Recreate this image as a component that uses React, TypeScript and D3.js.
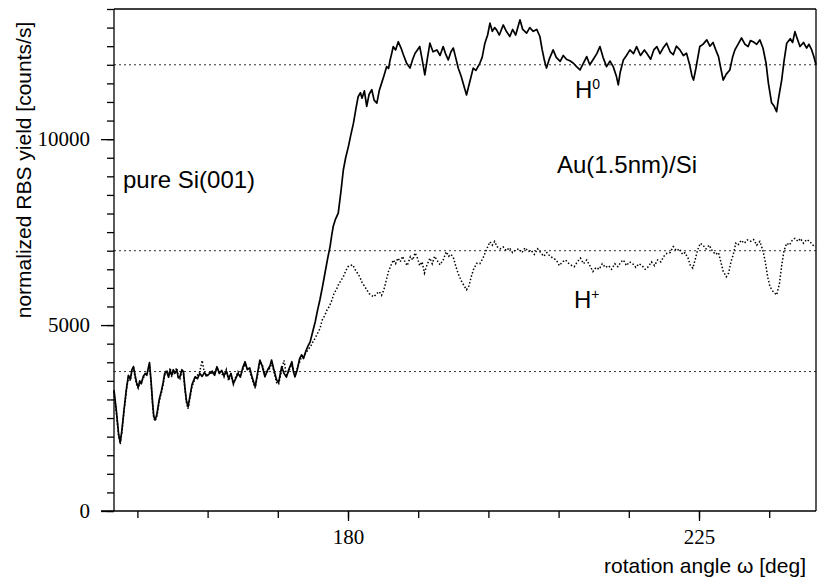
import React, { useEffect, useRef } from "react";
import * as d3 from "d3";

// H0 yield (solid trace), [angle deg, counts/s]
const h0Scan: [number, number][] = [
  [150.0, 3250], [150.3, 2700], [150.6, 2050], [150.8, 1850], [151.0, 2150], [151.3, 2750],
  [151.6, 3300], [151.85, 3650], [152.1, 3550], [152.3, 3800], [152.5, 3880], [152.7, 3650],
  [152.9, 3450], [153.1, 3330], [153.3, 3500], [153.5, 3420], [153.75, 3620], [154.0, 3700],
  [154.2, 3650], [154.4, 3850], [154.55, 3990], [154.75, 3500], [154.95, 2900], [155.1, 2550],
  [155.27, 2450], [155.5, 2600], [155.8, 3000], [156.1, 3250], [156.3, 3450], [156.5, 3700],
  [156.75, 3750], [157.0, 3600], [157.2, 3780], [157.4, 3650], [157.6, 3800], [157.8, 3700],
  [158.05, 3790], [158.25, 3580], [158.45, 3610], [158.7, 3800], [158.9, 3750], [159.1, 3300],
  [159.3, 2950], [159.5, 2800], [159.75, 3100], [160.0, 3400], [160.4, 3610], [160.7, 3560],
  [161.0, 3700], [161.3, 3620], [161.6, 3720], [161.9, 3640], [162.3, 3700], [162.6, 3760],
  [162.9, 3650], [163.2, 3880], [163.5, 3700], [163.8, 3780], [164.1, 3640], [164.4, 3760],
  [164.7, 3560], [165.0, 3700], [165.3, 3430], [165.6, 3560], [165.9, 3700], [166.2, 3600],
  [166.5, 3850], [166.8, 4015], [167.1, 3800], [167.4, 3850], [167.7, 3600], [168.1, 3340],
  [168.4, 3700], [168.7, 4060], [169.0, 3900], [169.35, 3610], [169.7, 3800], [170.0, 3900],
  [170.2, 4060], [170.5, 3800], [170.85, 3520], [171.1, 3450], [171.5, 3880], [171.8, 3700],
  [172.1, 3600], [172.4, 3800], [172.8, 4015], [173.0, 3750], [173.2, 3610], [173.5, 3800],
  [173.8, 4100], [174.05, 4200], [174.3, 4100], [174.6, 4300], [174.9, 4450], [175.15, 4550],
  [175.45, 4800], [175.8, 5090], [176.1, 5400], [176.4, 5680], [176.7, 6000], [177.05, 6400],
  [177.4, 6800], [177.7, 7110], [177.9, 7400], [178.1, 7650], [178.4, 7850], [178.75, 8010],
  [179.1, 8600], [179.4, 9170], [179.7, 9500], [180.05, 9800], [180.35, 10100], [180.7, 10430],
  [181.0, 10800], [181.3, 11140], [181.6, 11250], [181.8, 11100], [182.1, 11300], [182.4, 10880],
  [182.7, 11200], [183.05, 11330], [183.35, 11050], [183.7, 10970], [184.0, 11300], [184.3, 11500],
  [184.6, 11700], [184.95, 11950], [185.2, 11900], [185.4, 12130], [185.6, 12300], [185.8, 12490],
  [186.1, 12400], [186.45, 12620], [186.8, 12450], [187.1, 12270], [187.5, 12050], [187.95, 11910],
  [188.3, 12150], [188.6, 12310], [188.9, 12400], [189.2, 12490], [189.5, 12150], [189.85, 11730],
  [190.2, 12200], [190.5, 12580], [190.9, 12350], [191.4, 12400], [191.8, 12250], [192.2, 12490],
  [192.5, 12300], [192.85, 12130], [193.2, 12350], [193.5, 12450], [193.8, 12200], [194.15, 11900],
  [194.5, 11700], [194.9, 11400], [195.2, 11190], [195.5, 11450], [195.8, 11700], [196.05, 11910],
  [196.4, 11850], [196.9, 12040], [197.2, 12200], [197.55, 12580], [197.9, 12800], [198.2, 13120],
  [198.5, 12900], [198.8, 13000], [199.05, 12940], [199.4, 12800], [199.9, 13070], [200.3, 12900],
  [200.75, 12760], [201.1, 12950], [201.5, 12800], [202.05, 13210], [202.4, 12950], [202.9, 12850],
  [203.3, 13000], [203.75, 12900], [204.2, 12950], [204.6, 12760], [204.9, 12400], [205.2, 12100],
  [205.45, 11910], [205.8, 12150], [206.3, 12400], [206.7, 12200], [207.2, 12090], [207.6, 12250],
  [208.0, 12150], [208.5, 12100], [208.9, 12040], [209.3, 11950], [209.75, 11860], [210.2, 12050],
  [210.6, 12220], [211.0, 12000], [211.45, 12150], [211.9, 12300], [212.3, 12490], [212.7, 12200],
  [213.15, 11950], [213.6, 12100], [214.0, 11950], [214.4, 11700], [214.65, 11460], [214.9, 11800],
  [215.3, 12130], [215.7, 12250], [216.15, 12400], [216.6, 12300], [217.0, 12490], [217.5, 12250],
  [218.0, 12400], [218.3, 12310], [218.8, 12150], [219.2, 12400], [219.6, 12490], [220.0, 12300],
  [220.4, 12450], [220.85, 12580], [221.3, 12350], [221.7, 12270], [222.1, 12500], [222.55, 12400],
  [223.0, 12250], [223.4, 12310], [223.8, 12000], [224.1, 11700], [224.3, 11590], [224.6, 11900],
  [225.1, 12490], [225.5, 12550], [226.0, 12670], [226.4, 12500], [226.8, 12600], [227.15, 12400],
  [227.5, 12220], [227.8, 11900], [228.1, 11590], [228.5, 11750], [228.95, 11860], [229.3, 12200],
  [229.6, 12400], [230.0, 12550], [230.45, 12720], [230.9, 12550], [231.3, 12490], [231.6, 12650],
  [231.95, 12620], [232.4, 12550], [232.8, 12670], [233.2, 12450], [233.6, 12040], [233.9, 11500],
  [234.3, 10980], [234.6, 10900], [234.95, 10740], [235.2, 11100], [235.6, 11590], [235.9, 12100],
  [236.25, 12580], [236.7, 12700], [237.0, 12600], [237.3, 12890], [237.6, 12700], [237.95, 12490],
  [238.4, 12600], [238.8, 12450], [239.1, 12550], [239.45, 12400], [239.75, 12200], [240.0, 12000],
];

// H+ yield (dotted trace)
const hPlusScan: [number, number][] = [
  [150.0, 3200], [150.3, 2650], [150.6, 2000], [150.8, 1800], [151.0, 2100], [151.3, 2700],
  [151.6, 3250], [151.85, 3600], [152.1, 3500], [152.3, 3750], [152.5, 3850], [152.7, 3600],
  [152.9, 3400], [153.1, 3300], [153.3, 3450], [153.5, 3450], [153.75, 3580], [154.0, 3650],
  [154.2, 3700], [154.4, 3800], [154.55, 3950], [154.75, 3450], [154.95, 2850], [155.1, 2500],
  [155.27, 2420], [155.5, 2550], [155.8, 2950], [156.1, 3200], [156.3, 3400], [156.5, 3650],
  [156.75, 3800], [157.0, 3650], [157.2, 3850], [157.4, 3600], [157.6, 3750], [157.8, 3750],
  [158.05, 3850], [158.25, 3600], [158.45, 3550], [158.7, 3750], [158.9, 3700], [159.1, 3250],
  [159.3, 2900], [159.5, 2750], [159.75, 3050], [160.0, 3350], [160.4, 3550], [160.7, 3650],
  [161.0, 3750], [161.3, 4050], [161.6, 3700], [161.9, 3600], [162.3, 3750], [162.6, 3700],
  [162.9, 3700], [163.2, 3850], [163.5, 3750], [163.8, 3700], [164.1, 3600], [164.4, 3800],
  [164.7, 3500], [165.0, 3650], [165.3, 3400], [165.6, 3600], [165.9, 3750], [166.2, 3650],
  [166.5, 3800], [166.8, 3950], [167.1, 3850], [167.4, 3750], [167.7, 3550], [168.1, 3300],
  [168.4, 3650], [168.7, 4000], [169.0, 3950], [169.35, 3650], [169.7, 3750], [170.0, 3850],
  [170.2, 4000], [170.5, 3750], [170.85, 3450], [171.1, 3400], [171.5, 3800], [171.8, 4050],
  [172.1, 3650], [172.4, 3750], [172.8, 3950], [173.0, 3800], [173.2, 3650], [173.5, 3850],
  [173.8, 4000], [174.05, 4150], [174.3, 4200], [174.6, 4240], [174.9, 4350], [175.2, 4420],
  [175.5, 4550], [175.8, 4650], [176.1, 4780], [176.4, 4900], [176.7, 5140], [177.0, 5250],
  [177.3, 5400], [177.6, 5500], [177.9, 5650], [178.2, 5850], [178.5, 5950], [178.8, 6100],
  [179.1, 6200], [179.4, 6300], [179.7, 6450], [180.0, 6570], [180.3, 6600], [180.6, 6620],
  [180.9, 6500], [181.2, 6400], [181.5, 6300], [181.8, 6150], [182.1, 6050], [182.4, 5950],
  [182.7, 5850], [183.0, 5800], [183.3, 5760], [183.7, 5850], [184.0, 5900], [184.3, 5800],
  [184.6, 5950], [184.9, 6200], [185.2, 6450], [185.5, 6600], [185.8, 6750], [186.1, 6650],
  [186.4, 6800], [186.7, 6700], [187.0, 6850], [187.3, 6700], [187.6, 6600], [188.0, 6840],
  [188.3, 6750], [188.6, 6940], [188.9, 6800], [189.2, 6600], [189.5, 6700], [189.8, 6400],
  [190.1, 6600], [190.5, 6800], [190.8, 6650], [191.1, 6850], [191.4, 6750], [191.8, 6620],
  [192.2, 6750], [192.6, 6970], [192.9, 6850], [193.2, 6900], [193.5, 6820], [193.8, 6600],
  [194.1, 6400], [194.5, 6200], [194.9, 6050], [195.2, 5950], [195.5, 6050], [195.8, 6300],
  [196.1, 6500], [196.5, 6660], [196.9, 6650], [197.3, 6800], [197.6, 6950], [197.9, 7100],
  [198.2, 7240], [198.5, 7150], [198.8, 7250], [199.1, 7110], [199.5, 7050], [199.9, 7100],
  [200.3, 7000], [200.7, 7080], [201.1, 6950], [201.5, 7020], [201.9, 7050], [202.3, 6950],
  [202.7, 7080], [203.1, 6980], [203.5, 7000], [203.9, 6900], [204.3, 7050], [204.7, 6950],
  [205.1, 6850], [205.5, 6950], [205.9, 6850], [206.3, 6800], [206.7, 6750], [207.1, 6600],
  [207.5, 6700], [207.9, 6750], [208.3, 6660], [208.7, 6600], [209.0, 6570], [209.4, 6700],
  [209.8, 6800], [210.2, 6650], [210.6, 6750], [211.0, 6600], [211.4, 6440], [211.8, 6550],
  [212.2, 6500], [212.6, 6650], [213.0, 6550], [213.4, 6600], [213.8, 6500], [214.2, 6650],
  [214.6, 6570], [215.0, 6700], [215.3, 6750], [215.7, 6600], [216.1, 6700], [216.5, 6650],
  [216.9, 6550], [217.3, 6650], [217.7, 6600], [218.1, 6500], [218.5, 6570], [218.9, 6700],
  [219.3, 6600], [219.7, 6750], [220.1, 6700], [220.5, 6850], [220.9, 6930], [221.3, 6950],
  [221.7, 7110], [222.1, 7000], [222.5, 7050], [222.9, 6900], [223.2, 6950], [223.6, 6800],
  [223.9, 6600], [224.2, 6530], [224.5, 6750], [224.8, 7000], [225.15, 7200], [225.5, 7150],
  [225.9, 7050], [226.3, 7150], [226.7, 7000], [227.1, 6900], [227.5, 6950], [227.8, 6700],
  [228.1, 6450], [228.5, 6300], [228.8, 6400], [229.1, 6700], [229.4, 6900], [229.7, 7200],
  [230.0, 7150], [230.4, 7280], [230.8, 7200], [231.2, 7290], [231.6, 7250], [232.0, 7300],
  [232.4, 7150], [232.8, 7250], [233.2, 7000], [233.5, 6700], [233.8, 6300], [234.1, 6030],
  [234.5, 5900], [234.95, 5810], [235.3, 6100], [235.6, 6600], [235.9, 7000], [236.25, 7200],
  [236.6, 7150], [237.0, 7300], [237.3, 7330], [237.7, 7250], [238.0, 7330], [238.4, 7200],
  [238.8, 7300], [239.2, 7250], [239.6, 7150], [240.0, 7110],
];

// dotted reference levels
const guideLevels = [12000, 7000, 3750];

const xMinorTicks = [153, 162, 171, 180, 189, 198, 207, 216, 225, 234];
const xLabelTicks = [180, 225];
const yLabelTicks = [0, 5000, 10000];

const serif = "'Liberation Serif', 'Times New Roman', serif";
const sans = "'Liberation Sans', Arial, sans-serif";

export default function App() {
  const ref = useRef<SVGSVGElement>(null);

  useEffect(() => {
    const svg = d3.select(ref.current);
    svg.selectAll("*").remove();

    const x = d3.scaleLinear().domain([150, 240]).range([114, 816]);
    const y = d3.scaleLinear().domain([0, 13500]).range([511, 9]);

    // reference lines
    svg
      .append("g")
      .selectAll("line")
      .data(guideLevels)
      .join("line")
      .attr("x1", x(150))
      .attr("x2", x(240))
      .attr("y1", (d) => y(d))
      .attr("y2", (d) => y(d))
      .attr("stroke", "#333")
      .attr("stroke-width", 1)
      .attr("stroke-dasharray", "2,3");

    const line = d3
      .line<[number, number]>()
      .x((d) => x(d[0]))
      .y((d) => y(d[1]));

    svg
      .append("path")
      .datum(hPlusScan)
      .attr("d", line)
      .attr("fill", "none")
      .attr("stroke", "#000")
      .attr("stroke-width", 1.5)
      .attr("stroke-dasharray", "1.5,2");

    svg
      .append("path")
      .datum(h0Scan)
      .attr("d", line)
      .attr("fill", "none")
      .attr("stroke", "#000")
      .attr("stroke-width", 1.7)
      .attr("stroke-linejoin", "round");

    // x axis: minor then major ticks
    const xg = svg.append("g").attr("transform", "translate(0,511)");
    xg.append("g").call(
      d3.axisBottom(x).tickValues(xMinorTicks).tickSize(7).tickSizeOuter(0).tickFormat(() => "")
    );
    xg.append("g").call(
      d3.axisBottom(x).tickValues(xLabelTicks).tickSize(10).tickSizeOuter(0).tickPadding(8).tickFormat(d3.format("d"))
    );

    // y axis
    const yg = svg.append("g").attr("transform", "translate(114,0)");
    yg.append("g").call(
      d3.axisLeft(y).tickValues(d3.range(0, 13501, 500)).tickSize(7).tickSizeOuter(0).tickFormat(() => "")
    );
    yg.append("g").call(
      d3.axisLeft(y).tickValues(yLabelTicks).tickSize(13).tickSizeOuter(0).tickPadding(11).tickFormat(d3.format("d"))
    );

    svg.selectAll(".domain").remove();
    svg.selectAll(".tick line").attr("stroke", "#000").attr("stroke-width", 1.3);
    svg
      .selectAll(".tick text")
      .attr("fill", "#000")
      .style("font-family", serif)
      .style("font-size", "21px");

    // frame
    const frame = svg.append("g").attr("stroke", "#000").attr("stroke-width", 1.3);
    frame.append("line").attr("x1", 101).attr("x2", x(240)).attr("y1", y(0)).attr("y2", y(0));
    frame.append("line").attr("x1", x(150)).attr("x2", x(150)).attr("y1", y(0)).attr("y2", y(13500));
    frame.append("line").attr("x1", x(150)).attr("x2", x(240)).attr("y1", y(13500)).attr("y2", y(13500));
    frame.append("line").attr("x1", x(240)).attr("x2", x(240)).attr("y1", y(0)).attr("y2", y(13500));

    // axis titles
    svg
      .append("text")
      .attr("x", 806)
      .attr("y", 573)
      .attr("text-anchor", "end")
      .style("font-family", sans)
      .style("font-size", "21px")
      .text("rotation angle ω [deg]");

    svg
      .append("text")
      .attr("transform", "translate(31,170) rotate(-90)")
      .attr("text-anchor", "middle")
      .style("font-family", sans)
      .style("font-size", "21px")
      .text("normalized RBS yield [counts/s]");

    // annotations
    const note = (px: number, py: number, s: string) =>
      svg
        .append("text")
        .attr("x", px)
        .attr("y", py)
        .style("font-family", sans)
        .style("font-size", "24px")
        .text(s);

    note(123, 188, "pure Si(001)");
    note(557, 173, "Au(1.5nm)/Si");

    const hLabel = (px: number, py: number, sup: string) => {
      const t = svg
        .append("text")
        .attr("x", px)
        .attr("y", py)
        .style("font-family", sans)
        .style("font-size", "24px");
      t.append("tspan").text("H");
      t.append("tspan").attr("dy", -9).style("font-size", "14px").text(sup);
    };
    hLabel(575, 98, "0");
    hLabel(574, 308, "+");
  }, []);

  return (
    <div style={{ position: "absolute", left: 0, top: 0 }}>
      <svg ref={ref} width={817} height={579} style={{ display: "block", background: "#fff" }} />
    </div>
  );
}
